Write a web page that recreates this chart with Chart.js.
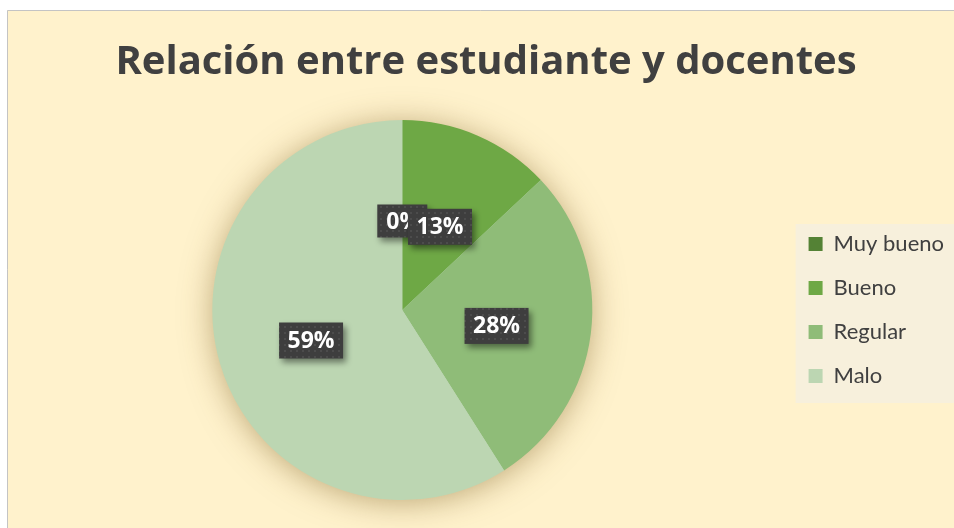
<!DOCTYPE html>
<html>
<head>
<meta charset="utf-8">
<script src="https://cdn.jsdelivr.net/npm/chart.js@4/dist/chart.umd.min.js"></script>
<style>
  html, body { margin: 0; padding: 0; background: #ffffff; }
  #wrap { position: absolute; left: 0; top: 0; width: 954px; height: 528px; }
</style>
</head>
<body>
<div id="wrap"><canvas id="myChart" width="954" height="528"></canvas></div>
<script>
// chart data
var categories = ['Muy bueno', 'Bueno', 'Regular', 'Malo'];
var percentages = [0, 13, 28, 59];
var sliceColors = ['#548235', '#6ea845', '#8fbc78', '#bcd6b2'];

// background of the chart area (cream with grey border top/left) + legend panel
var backgroundPlugin = {
    id: 'chartBackground',
    beforeDraw: function (chart) {
        var ctx = chart.ctx;
        ctx.save();
        ctx.fillStyle = '#ffffff';
        ctx.fillRect(0, 0, chart.width, chart.height);
        ctx.fillStyle = '#fff2cc';
        ctx.fillRect(7, 10, chart.width - 7, chart.height - 10);
        ctx.strokeStyle = '#c4c4c4';
        ctx.lineWidth = 1;
        ctx.beginPath();
        ctx.moveTo(7.5, chart.height);
        ctx.lineTo(7.5, 10.5);
        ctx.lineTo(chart.width, 10.5);
        ctx.stroke();
        var boxes = chart.legend && chart.legend.legendHitBoxes;
        if (boxes && boxes.length) {
            var first = boxes[0], last = boxes[boxes.length - 1];
            var top = first.top + first.height / 2 - 20;
            var bottom = last.top + last.height / 2 + 27;
            var left = first.left - 13;
            ctx.fillStyle = '#f7f0dc';
            ctx.fillRect(left, top, chart.width - left, bottom - top);
        }
        ctx.restore();
    }
};

// soft glow under the pie
var shadowPlugin = {
    id: 'pieShadow',
    beforeDatasetsDraw: function (chart) {
        var arc = chart.getDatasetMeta(0).data[0];
        if (!arc) return;
        var ctx = chart.ctx;
        ctx.save();
        ctx.shadowColor = 'rgba(120, 90, 30, 0.5)';
        ctx.shadowBlur = 32;
        ctx.shadowOffsetY = 3;
        ctx.fillStyle = '#bcd6b2';
        ctx.beginPath();
        ctx.arc(arc.x, arc.y, arc.outerRadius - 1, 0, Math.PI * 2);
        ctx.fill();
        ctx.restore();
    }
};

// dark label boxes with percentage text
var dotPattern = null;
function getPattern(ctx) {
    if (dotPattern) return dotPattern;
    var c = document.createElement('canvas');
    c.width = 6; c.height = 6;
    var p = c.getContext('2d');
    p.fillStyle = '#3e3e3e';
    p.fillRect(0, 0, 6, 6);
    p.fillStyle = '#4c4c4c';
    p.fillRect(2, 2, 2, 2);
    dotPattern = ctx.createPattern(c, 'repeat');
    return dotPattern;
}

var labelPlugin = {
    id: 'boxLabels',
    afterDatasetsDraw: function (chart) {
        var ctx = chart.ctx;
        var meta = chart.getDatasetMeta(0);
        ctx.save();
        ctx.font = 'bold 23px "Open Sans", sans-serif';
        ctx.textBaseline = 'middle';
        meta.data.forEach(function (arc, i) {
            var pos = arc.tooltipPosition();
            var text = percentages[i] + '%';
            var w = 64, h = 36;
            var cx = pos.x, cy = pos.y + 4;
            if (i === 0) { w = 50; h = 33; cy = pos.y + 6; }
            var x = cx - w / 2, y = cy - h / 2;
            ctx.save();
            ctx.shadowColor = 'rgba(0,0,0,0.45)';
            ctx.shadowBlur = 6;
            ctx.shadowOffsetX = 3;
            ctx.shadowOffsetY = 4;
            ctx.fillStyle = getPattern(ctx);
            ctx.fillRect(x, y, w, h);
            ctx.restore();
            ctx.fillStyle = '#ffffff';
            if (i === 0) {
                ctx.textAlign = 'left';
                ctx.fillText(text, x + 9, cy + 1);
            } else {
                ctx.textAlign = 'center';
                ctx.fillText(text, cx, cy + 1);
            }
        });
        ctx.restore();
    }
};

var ctx = document.getElementById('myChart').getContext('2d');
var myChart = new Chart(ctx, {
    type: 'pie',
    data: {
        labels: categories,
        datasets: [{
            data: percentages,
            backgroundColor: sliceColors,
            borderWidth: 0
        }]
    },
    options: {
        responsive: false,
        animation: false,
        layout: { padding: { left: 18, right: 0, top: 10, bottom: 28 } },
        plugins: {
            title: {
                display: true,
                text: 'Relación entre estudiante y docentes',
                color: '#404040',
                font: { family: 'Open Sans', size: 40, weight: 'bold' },
                padding: { top: 29, bottom: 33 }
            },
            legend: {
                position: 'right',
                fullSize: false,
                labels: {
                    color: '#404040',
                    font: { family: 'Lato', size: 22 },
                    boxWidth: 14,
                    boxHeight: 14,
                    padding: 22
                }
            },
            tooltip: { enabled: false }
        }
    },
    plugins: [backgroundPlugin, shadowPlugin, labelPlugin]
});
</script>
</body>
</html>
